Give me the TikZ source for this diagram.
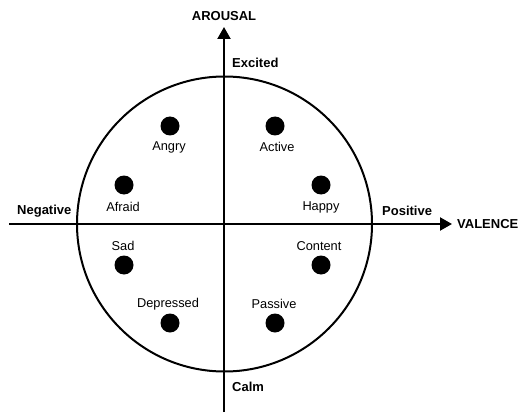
\documentclass[tikz,border=0pt]{standalone}
\usepackage{fontspec}
\setmainfont{Liberation Sans}
\usetikzlibrary{arrows.meta}
\begin{document}
\begin{tikzpicture}[x=1pt,y=-1pt,
  axis/.style={line width=2.2pt,-{Triangle[length=12pt,width=13pt]}},
  dot/.style={circle,fill=black,minimum size=19pt,inner sep=0pt},
  emo/.style={font=\fontsize{12.8}{14}\selectfont,inner sep=0pt},
  blab/.style={font=\fontsize{13}{15}\selectfont\bfseries,inner sep=0pt},
  ring/.style={line width=2pt}]
\useasboundingbox (0,0) rectangle (521,414);
\coordinate (c) at (224.5,224);
\draw[ring] (c) circle[radius=147.5];
\coordinate (vbot) at (224,412);
\coordinate (vtop) at (224,27);
\coordinate (hleft) at (9,224);
\coordinate (hright) at (452,224);
\draw[axis] (vbot) -- (vtop);
\draw[axis] (hleft) -- (hright);
\node[blab] (arousal) at (224,16) {AROUSAL};
\node[blab,anchor=west] (valence) at (457,224) {VALENCE};
\node[blab,anchor=west] (excited) at (232,63) {Excited};
\node[blab,anchor=west] (calm) at (232,387) {Calm};
\node[blab,anchor=west] (negative) at (17,211) {Negative};
\node[blab,anchor=west] (positive) at (382,211) {Positive};
\node[dot] (dangry) at (170,126) {};
\node[emo] (angry) at (169,147) {Angry};
\node[dot] (dactive) at (275,126) {};
\node[emo] (active) at (277,147) {Active};
\node[dot] (dafraid) at (124,185) {};
\node[emo] (afraid) at (123,207) {Afraid};
\node[dot] (dhappy) at (321,185) {};
\node[emo] (happy) at (321,207) {Happy};
\node[emo] (sad) at (123,246) {Sad};
\node[dot] (dsad) at (124,265) {};
\node[emo] (content) at (319,246) {Content};
\node[dot] (dcontent) at (321,265) {};
\node[emo] (depressed) at (168,304) {Depressed};
\node[dot] (ddepressed) at (170,323) {};
\node[emo] (passive) at (274,304) {Passive};
\node[dot] (dpassive) at (275,323) {};
\end{tikzpicture}
\end{document}
